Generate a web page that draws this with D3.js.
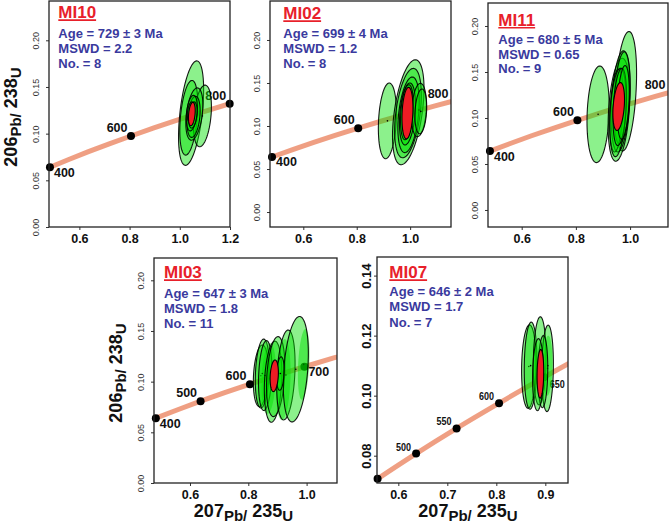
<!DOCTYPE html>
<html><head><meta charset="utf-8">
<script src="https://cdn.jsdelivr.net/npm/d3@7/dist/d3.min.js"></script>
<style>
body{margin:0;background:#fff}
svg{display:block;font-family:"Liberation Sans",Arial,Helvetica,sans-serif}
</style>
</head><body>
<svg id="chart" width="669" height="527"></svg>
<script>
// ---------------- DATA ----------------
const sampleNames = ["MI10", "MI02", "MI11", "MI03", "MI07"];
const sampleAges  = ["729 ± 3", "699 ± 4", "680 ± 5", "647 ± 3", "646 ± 2"];
const sampleMSWD  = ["2.2", "1.2", "0.65", "1.8", "1.7"];
const sampleN     = [8, 8, 9, 11, 7];

// Concordia reference curve (age in Ma, 207Pb/235U, 206Pb/238U)
const concordiaAges      = [350, 400, 450, 500, 550, 600, 650, 700, 750, 800, 850];
const concordiaPb207U235 = [0.4116, 0.4828, 0.5577, 0.6363, 0.7189, 0.8056, 0.8968, 0.9925, 1.0931, 1.1987, 1.3097];
const concordiaPb206U238 = [0.0558, 0.0640, 0.0723, 0.0807, 0.0891, 0.0975, 0.1061, 0.1147, 0.1234, 0.1321, 0.1409];

// age markers shown on each panel
const markedAges = [[400, 600, 800], [400, 600, 800], [400, 600, 800], [400, 500, 600, 700], [450, 500, 550, 600, 650]];
const markedAgesBelow = [[400], [400], [400], [400, 700], [650]];

// axis ticks / domains
const xTicks = [[0.6, 0.8, 1.0, 1.2], [0.6, 0.8, 1.0], [0.6, 0.8, 1.0], [0.6, 0.8, 1.0], [0.6, 0.7, 0.8, 0.9]];
const yTicks = [[0, 0.05, 0.10, 0.15, 0.20], [0, 0.05, 0.10, 0.15, 0.20], [0, 0.05, 0.10, 0.15, 0.20], [0, 0.05, 0.10, 0.15, 0.20], [0.08, 0.10, 0.12, 0.14]];
const xDomains = [[0.479, 1.2], [0.4753, 1.153], [0.4756, 1.140], [0.4765, 1.1043], [0.5565, 0.9463]];
const yDomains = [[0, 0.2421], [-0.0174, 0.2453], [-0.0185, 0.225], [0, 0.222], [0.0709, 0.1462]];

// analysis error ellipses: [207/235, 206/238, half-width x, half-height y, rho, outlined]
const ellipsesMI10 = [
  [1.045, 0.122, 0.050, 0.056, 0.45, 1],
  [1.036, 0.117, 0.036, 0.040, 0.35, 1],
  [1.090, 0.119, 0.036, 0.033, 0.30, 1],
  [1.058, 0.121, 0.034, 0.028, 0.35, 1],
  [1.055, 0.118, 0.026, 0.022, 0.30, 1],
  [1.048, 0.122, 0.022, 0.019, 0.30, 1],
  [1.052, 0.120, 0.017, 0.014, 0.30, 1],
  [1.044, 0.123, 0.014, 0.011, 0.30, 1]
];
const ellipsesMI02 = [
  [0.915, 0.106, 0.034, 0.044, 0.20, 1],
  [0.993, 0.116, 0.059, 0.061, 0.45, 1],
  [0.992, 0.115, 0.050, 0.052, 0.40, 1],
  [0.994, 0.113, 0.040, 0.044, 0.35, 1],
  [0.990, 0.114, 0.030, 0.036, 0.30, 1],
  [0.988, 0.116, 0.024, 0.032, 0.30, 1],
  [1.033, 0.1186, 0.028, 0.031, 0.20, 1],
  [1.040, 0.117, 0.022, 0.026, 0.20, 1]
];
const ellipsesMI11 = [
  [0.882, 0.104, 0.041, 0.0525, 0.15, 1],
  [0.984, 0.129, 0.040, 0.065, 0.30, 1],
  [0.959, 0.109, 0.040, 0.056, 0.30, 1],
  [0.965, 0.118, 0.035, 0.055, 0.30, 1],
  [0.970, 0.122, 0.030, 0.050, 0.30, 1],
  [0.950, 0.108, 0.025, 0.045, 0.30, 1],
  [0.955, 0.106, 0.030, 0.048, 0.30, 1],
  [0.962, 0.112, 0.025, 0.042, 0.30, 1],
  [0.975, 0.117, 0.022, 0.040, 0.30, 1]
];
const ellipsesMI03 = [
  [0.870, 0.103, 0.025, 0.035, 0.20, 0],
  [0.920, 0.102, 0.025, 0.040, 0.20, 0],
  [0.990, 0.117, 0.020, 0.035, 0.30, 0],
  [0.843, 0.1058, 0.0257, 0.0304, 0.20, 1],
  [0.848, 0.108, 0.024, 0.034, 0.20, 1],
  [0.858, 0.106, 0.023, 0.0345, 0.20, 1],
  [0.885, 0.100, 0.030, 0.040, 0.20, 1],
  [0.894, 0.105, 0.0315, 0.0395, 0.25, 1],
  [0.929, 0.1066, 0.0315, 0.0444, 0.25, 1],
  [0.963, 0.1123, 0.043, 0.052, 0.30, 1],
  [0.910, 0.108, 0.013, 0.0165, 0.20, 1]
];
const ellipsesMI07 = [
  [0.8663, 0.1097, 0.0147, 0.0139, 0.10, 1],
  [0.870, 0.1100, 0.0130, 0.0145, 0.10, 1],
  [0.8885, 0.1116, 0.0130, 0.0147, 0.10, 1],
  [0.9045, 0.1091, 0.0120, 0.0144, 0.10, 1],
  [0.905, 0.1100, 0.0095, 0.0100, 0.10, 0],
  [0.895, 0.1080, 0.0100, 0.0120, 0.10, 1],
  [0.885, 0.1070, 0.0110, 0.0120, 0.10, 1]
];
const sampleEllipses = [ellipsesMI10, ellipsesMI02, ellipsesMI11, ellipsesMI03, ellipsesMI07];

// weighted mean (concordia age) ellipses
const meanEllipses = [
  [1.048, 0.121, 0.0134, 0.0125, 0.30],
  [0.990, 0.115, 0.0206, 0.030, 0.20],
  [0.958, 0.1125, 0.0215, 0.026, 0.30],
  [0.889, 0.1058, 0.0142, 0.0156, 0.20],
  [0.890, 0.1073, 0.0068, 0.0081, 0.10]
];

// ---------------- LAYOUT ----------------
const layout = [
  {box: [49, 1, 230, 227],   info: [58.3, 18.3, 37.5, 15.3], yTitle: [17, 117]},
  {box: [270, 1, 451, 227],  info: [283.3, 19.3, 37.7, 15.3]},
  {box: [488, 3, 668, 227],  info: [498.3, 26, 44, 14.7]},
  {box: [154, 258, 337, 483], info: [164, 278.3, 297.7, 15.0], yTitle: [121.5, 373], xTitle: [243.5, 517]},
  {box: [377, 257, 568, 483], info: [389.3, 278.3, 295.7, 15.5], xTitle: [468, 517], big: true}
];

const svg = d3.select("#chart");
const defs = svg.append("defs");
const FONT_BOLD = 700;

function addRatioTitle(g, a, b) {
  const t = g.append("text").attr("text-anchor", "middle").attr("font-weight", FONT_BOLD).attr("fill", "#111");
  t.append("tspan").attr("font-size", 18).text(a);
  t.append("tspan").attr("font-size", 15).attr("dy", 4).text("Pb/");
  t.append("tspan").attr("font-size", 18).attr("dy", -4).text("\u00a0" + b);
  t.append("tspan").attr("font-size", 15).attr("dy", 4).text("U");
  return t;
}

layout.forEach((L, i) => {
  const [x0, y0, x1, y1] = L.box;
  const xs = d3.scaleLinear().domain(xDomains[i]).range([x0, x1]);
  const ys = d3.scaleLinear().domain(yDomains[i]).range([y1, y0]);
  const g = svg.append("g");

  const clipId = "clip" + i;
  defs.append("clipPath").attr("id", clipId).append("rect")
    .attr("x", x0).attr("y", y0).attr("width", x1 - x0).attr("height", y1 - y0);

  // axes
  const xAxis = d3.axisBottom(xs).tickValues(xTicks[i]).tickSize(3).tickFormat(d3.format(".1f"));
  const gx = g.append("g").attr("transform", `translate(0,${y1})`).call(xAxis);
  gx.select(".domain").remove();
  gx.selectAll(".tick line").attr("stroke", "#333");
  gx.selectAll(".tick text").attr("font-family", null).attr("font-size", 12.5).attr("font-weight", FONT_BOLD)
    .attr("fill", "#111").attr("dy", null).attr("y", 16);

  const yAxis = d3.axisLeft(ys).tickValues(yTicks[i]).tickSize(3).tickFormat(d3.format(".2f"));
  const gy = g.append("g").attr("transform", `translate(${x0},0)`).call(yAxis);
  gy.select(".domain").remove();
  gy.selectAll(".tick line").attr("stroke", "#333");
  if (L.big) {
    gy.selectAll(".tick text").attr("font-family", null).attr("font-size", 13).attr("font-weight", FONT_BOLD)
      .attr("fill", "#111").attr("x", null).attr("dy", null)
      .attr("text-anchor", "middle").attr("transform", "translate(-6.5,0) rotate(-90)");
  } else {
    gy.selectAll(".tick text").attr("font-family", null).attr("font-size", 9).attr("font-weight", 400)
      .attr("fill", "#333").attr("x", null).attr("dy", null)
      .attr("text-anchor", "middle").attr("transform", "translate(-10,0) rotate(-90)");
  }

  // plotting layers (bottom to top)
  const lineG = g.append("g").attr("clip-path", `url(#${clipId})`);
  const dotG = g.append("g");
  const labG = g.append("g").attr("clip-path", `url(#${clipId})`);
  const ellG = g.append("g").attr("clip-path", `url(#${clipId})`);

  // concordia line
  const cpts = concordiaAges.map((a, k) => [concordiaPb207U235[k], concordiaPb206U238[k]]);
  lineG.append("path").datum(cpts)
    .attr("d", d3.line().x(d => xs(d[0])).y(d => ys(d[1])).curve(d3.curveMonotoneX))
    .attr("fill", "none").attr("stroke", "#ee9a7c").attr("stroke-width", 5).attr("stroke-opacity", 0.95);

  // age markers + labels
  const [dxmin, dxmax] = xDomains[i];
  markedAges[i].forEach(age => {
    const k = concordiaAges.indexOf(age);
    const X = concordiaPb207U235[k], Y = concordiaPb206U238[k];
    const inside = X >= dxmin - 0.004 && X <= dxmax + 0.004;
    let px = xs(X), py = ys(Y);
    if (inside) {
      dotG.append("circle").attr("cx", px).attr("cy", py).attr("r", 4).attr("fill", "#000");
    } else {
      const k0 = k - 1;
      const t = (dxmax - concordiaPb207U235[k0]) / (X - concordiaPb207U235[k0]);
      px = x1 + 1;
      py = ys(concordiaPb206U238[k0] + t * (Y - concordiaPb206U238[k0]));
    }
    const below = markedAgesBelow[i].includes(age);
    const lab = labG.append("text").attr("font-weight", FONT_BOLD).attr("fill", "#111").text(age);
    if (L.big) {
      lab.attr("font-size", 11).attr("textLength", 15).attr("lengthAdjust", "spacingAndGlyphs");
      if (below) lab.attr("x", px + 6).attr("y", py + 11);
      else lab.attr("x", px - 5).attr("y", py - 3).attr("text-anchor", "end");
    } else {
      lab.attr("font-size", 12.5);
      if (below) lab.attr("x", px + 4).attr("y", py + 9.5);
      else lab.attr("x", px - 3.5).attr("y", py - 4).attr("text-anchor", "end");
    }
  });

  // ellipses
  const angles = d3.range(0, 72).map(k => k * 2 * Math.PI / 72);
  const ellPath = e => {
    const [cx, cy, hx, hy, rho] = e;
    const s = Math.sqrt(1 - rho * rho);
    return d3.line().curve(d3.curveLinearClosed)(angles.map(t =>
      [xs(cx + hx * Math.cos(t)), ys(cy + hy * (rho * Math.cos(t) + s * Math.sin(t)))]));
  };
  sampleEllipses[i].forEach(e => {
    ellG.append("path").attr("d", ellPath(e))
      .attr("fill", "#00e000").attr("fill-opacity", 0.45)
      .attr("stroke", e[5] ? "#000" : "none").attr("stroke-width", 1.1).attr("stroke-opacity", 0.9);
    ellG.append("circle").attr("cx", xs(e[0])).attr("cy", ys(e[1])).attr("r", 0.8).attr("fill", "#000");
  });
  ellG.append("path").attr("d", ellPath(meanEllipses[i]))
    .attr("fill", "#ee1c24").attr("stroke", "#000").attr("stroke-width", 1.1);

  // frame
  g.append("rect").attr("x", x0).attr("y", y0).attr("width", x1 - x0).attr("height", y1 - y0)
    .attr("fill", "none").attr("stroke", "#222").attr("stroke-width", 1.3);

  // info text
  const [tx, tb, ab, lh] = L.info;
  const title = g.append("text").attr("x", tx).attr("y", tb).attr("font-size", 17).attr("font-weight", FONT_BOLD)
    .attr("fill", "#e8202a").text(sampleNames[i]);
  const tw = title.node().getComputedTextLength();
  g.append("line").attr("x1", tx).attr("x2", tx + tw).attr("y1", tb + 1.8).attr("y2", tb + 1.8)
    .attr("stroke", "#e8202a").attr("stroke-width", 1.6);
  const lines = [`Age = ${sampleAges[i]} Ma`, `MSWD = ${sampleMSWD[i]}`, `No. = ${sampleN[i]}`];
  lines.forEach((s, k) => {
    g.append("text").attr("x", tx).attr("y", ab + k * lh).attr("font-size", 13).attr("font-weight", FONT_BOLD)
      .attr("fill", "#3a3a9e").text(s);
  });

  // axis titles
  if (L.yTitle) {
    addRatioTitle(g, "206", "238").attr("transform", `translate(${L.yTitle[0]},${L.yTitle[1]}) rotate(-90)`);
  }
  if (L.xTitle) {
    addRatioTitle(g, "207", "235").attr("transform", `translate(${L.xTitle[0]},${L.xTitle[1]})`);
  }
});
</script>
</body></html>
